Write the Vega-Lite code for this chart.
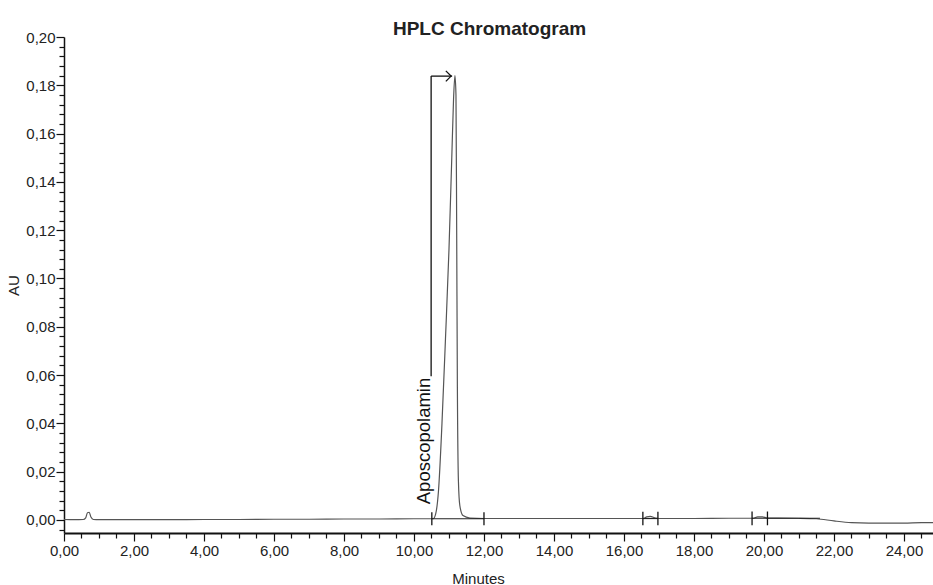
{
  "$schema": "https://vega.github.io/schema/vega-lite/v6.json",
  "autosize": "none",
  "width": 869,
  "height": 496,
  "padding": {"left": 64, "top": 37, "right": 0, "bottom": 52},
  "background": "white",
  "config": {
    "font": "Liberation Sans",
    "view": {"stroke": null},
    "axis": {"grid": false, "domainColor": "#111", "tickColor": "#111", "labelColor": "#222", "titleColor": "#222", "labelFont": "Liberation Sans", "titleFont": "Liberation Sans", "titleFontWeight": "normal", "labelOverlap": false, "labelFlush": false, "labelFontSize": 15, "titleFontSize": 15}
  },
  "title": {"text": "HPLC  Chromatogram", "fontSize": 19, "fontWeight": "bold", "color": "#222", "anchor": "middle", "dx": -9, "offset": 0, "dy": 9, "font": "Liberation Sans"},
  "datasets": {
    "trace": [
      {"min": 0.0, "au": 0.0002}, {"min": 0.3, "au": 0.0001}, {"min": 0.55, "au": 0.0002},
      {"min": 0.62, "au": 0.0009}, {"min": 0.67, "au": 0.0030}, {"min": 0.72, "au": 0.0032},
      {"min": 0.77, "au": 0.0012}, {"min": 0.84, "au": 0.0002}, {"min": 1.0, "au": 0.0001},
      {"min": 2.0, "au": 0.0001}, {"min": 3.0, "au": 0.0001}, {"min": 4.0, "au": 0.0002},
      {"min": 5.0, "au": 0.0002}, {"min": 6.0, "au": 0.0003}, {"min": 7.0, "au": 0.0003},
      {"min": 8.0, "au": 0.0004}, {"min": 9.0, "au": 0.0004}, {"min": 10.0, "au": 0.0005},
      {"min": 10.55, "au": 0.0005}, {"min": 10.62, "au": 0.0025}, {"min": 10.7, "au": 0.012},
      {"min": 10.8, "au": 0.040}, {"min": 10.9, "au": 0.075}, {"min": 11.0, "au": 0.112},
      {"min": 11.08, "au": 0.150}, {"min": 11.13, "au": 0.174}, {"min": 11.17, "au": 0.184},
      {"min": 11.2, "au": 0.176}, {"min": 11.22, "au": 0.120}, {"min": 11.24, "au": 0.055},
      {"min": 11.27, "au": 0.016}, {"min": 11.31, "au": 0.006}, {"min": 11.4, "au": 0.0018},
      {"min": 11.6, "au": 0.0008}, {"min": 12.0, "au": 0.0006}, {"min": 13.0, "au": 0.0006},
      {"min": 14.0, "au": 0.0006}, {"min": 15.0, "au": 0.0006}, {"min": 16.0, "au": 0.0006},
      {"min": 16.55, "au": 0.0006}, {"min": 16.65, "au": 0.0013}, {"min": 16.75, "au": 0.0015},
      {"min": 16.9, "au": 0.0008}, {"min": 17.0, "au": 0.0006}, {"min": 18.0, "au": 0.0006},
      {"min": 19.0, "au": 0.0007}, {"min": 19.7, "au": 0.0007}, {"min": 19.82, "au": 0.0013},
      {"min": 19.95, "au": 0.0013}, {"min": 20.1, "au": 0.0008}, {"min": 21.0, "au": 0.0007},
      {"min": 21.5, "au": 0.0005}, {"min": 22.0, "au": -0.0004}, {"min": 22.5, "au": -0.0011},
      {"min": 23.0, "au": -0.0013}, {"min": 24.0, "au": -0.0013}, {"min": 24.5, "au": -0.0011},
      {"min": 24.83, "au": -0.0011}
    ],
    "integration": [
      {"start": 10.51, "end": 12.0, "level": 0.0005},
      {"start": 16.54, "end": 16.97, "level": 0.0006},
      {"start": 19.66, "end": 21.6, "level": 0.0007}
    ],
    "marks": [
      {"t": 10.51, "lo": -0.0022, "hi": 0.0032},
      {"t": 12.0, "lo": -0.0022, "hi": 0.0032},
      {"t": 16.54, "lo": -0.0022, "hi": 0.0034},
      {"t": 16.97, "lo": -0.0022, "hi": 0.0034},
      {"t": 19.66, "lo": -0.0022, "hi": 0.0035},
      {"t": 20.1, "lo": -0.0022, "hi": 0.0035}
    ],
    "leader": [
      {"x": 10.49, "y": 0.0595, "x2": 10.49, "y2": 0.1838},
      {"x": 10.49, "y": 0.1838, "x2": 11.09, "y2": 0.1838}
    ],
    "label": [
      {"x": 10.29, "y": 0.0327, "name": "Aposcopolamin", "tipx": 11.06, "tipy": 0.1838}
    ]
  },
  "layer": [
    {
      "data": {"name": "trace"},
      "mark": {"type": "line", "color": "#555", "strokeWidth": 1.2, "interpolate": "monotone"},
      "encoding": {
        "x": {
          "field": "min", "type": "quantitative",
          "scale": {"domain": [0, 24.83], "nice": false, "zero": false},
          "axis": {
            "title": "Minutes", "titlePadding": 13, "titleAnchor": "middle", "titleX": 414,
            "tickCount": 500,
            "values": [0,0.5,1,1.5,2,2.5,3,3.5,4,4.5,5,5.5,6,6.5,7,7.5,8,8.5,9,9.5,10,10.5,11,11.5,12,12.5,13,13.5,14,14.5,15,15.5,16,16.5,17,17.5,18,18.5,19,19.5,20,20.5,21,21.5,22,22.5,23,23.5,24,24.5],
            "labelExpr": "datum.value % 2 == 0 ? replace(format(datum.value, '.2f'), '.', ',') : ''",
            "tickSize": {"condition": {"test": "datum.value % 2 == 0", "value": 8}, "value": 5},
            "domainWidth": 2,
            "tickWidth": 1.2,
            "labelPadding": 2,
            "labelOverlap": false
          }
        },
        "y": {
          "field": "au", "type": "quantitative",
          "scale": {"domain": [-0.0054, 0.2], "nice": false, "zero": false},
          "axis": {
            "title": "AU", "titlePadding": 4,
            "tickCount": 500,
            "values": [-0.004,0,0.004,0.008,0.012,0.016,0.02,0.024,0.028,0.032,0.036,0.04,0.044,0.048,0.052,0.056,0.06,0.064,0.068,0.072,0.076,0.08,0.084,0.088,0.092,0.096,0.1,0.104,0.108,0.112,0.116,0.12,0.124,0.128,0.132,0.136,0.14,0.144,0.148,0.152,0.156,0.16,0.164,0.168,0.172,0.176,0.18,0.184,0.188,0.192,0.196,0.2],
            "labelExpr": "abs(datum.value * 50 - round(datum.value * 50)) < 0.001 ? replace(format(datum.value, '.2f'), '.', ',') : ''",
            "tickSize": {"condition": {"test": "abs(datum.value * 50 - round(datum.value * 50)) < 0.001", "value": 8}, "value": 5},
            "domainWidth": 1.5,
            "tickWidth": 1.2,
            "labelPadding": 1,
            "labelOverlap": false
          }
        }
      }
    },
    {
      "mark": {"type": "rule", "color": "#111", "strokeWidth": 1.5},
      "encoding": {"y": {"datum": 0.2}}
    },
    {
      "mark": {"type": "rule", "color": "#999", "strokeWidth": 1, "strokeDash": [2, 3]},
      "encoding": {"x": {"datum": 19.26}}
    },
    {
      "data": {"name": "integration"},
      "mark": {"type": "rule", "color": "#222", "strokeWidth": 1.2},
      "encoding": {
        "x": {"field": "start", "type": "quantitative"},
        "x2": {"field": "end"},
        "y": {"field": "level", "type": "quantitative"}
      }
    },
    {
      "data": {"name": "marks"},
      "mark": {"type": "rule", "color": "#111", "strokeWidth": 1.3},
      "encoding": {
        "x": {"field": "t", "type": "quantitative"},
        "y": {"field": "lo", "type": "quantitative"},
        "y2": {"field": "hi"}
      }
    },
    {
      "data": {"name": "leader"},
      "mark": {"type": "rule", "color": "#111", "strokeWidth": 1.3},
      "encoding": {
        "x": {"field": "x", "type": "quantitative"},
        "y": {"field": "y", "type": "quantitative"},
        "x2": {"field": "x2"},
        "y2": {"field": "y2"}
      }
    },
    {
      "data": {"name": "label"},
      "mark": {"type": "point", "shape": "M-1,-1L0,0L-1,1", "filled": false, "stroke": "#111", "strokeWidth": 1.3, "size": 110, "opacity": 1},
      "encoding": {
        "x": {"field": "tipx", "type": "quantitative"},
        "y": {"field": "tipy", "type": "quantitative"}
      }
    },
    {
      "data": {"name": "label"},
      "mark": {"type": "text", "angle": 270, "fontSize": 18.5, "color": "#111", "font": "Liberation Sans", "align": "center", "baseline": "middle"},
      "encoding": {
        "x": {"field": "x", "type": "quantitative"},
        "y": {"field": "y", "type": "quantitative"},
        "text": {"field": "name"}
      }
    }
  ]
}
